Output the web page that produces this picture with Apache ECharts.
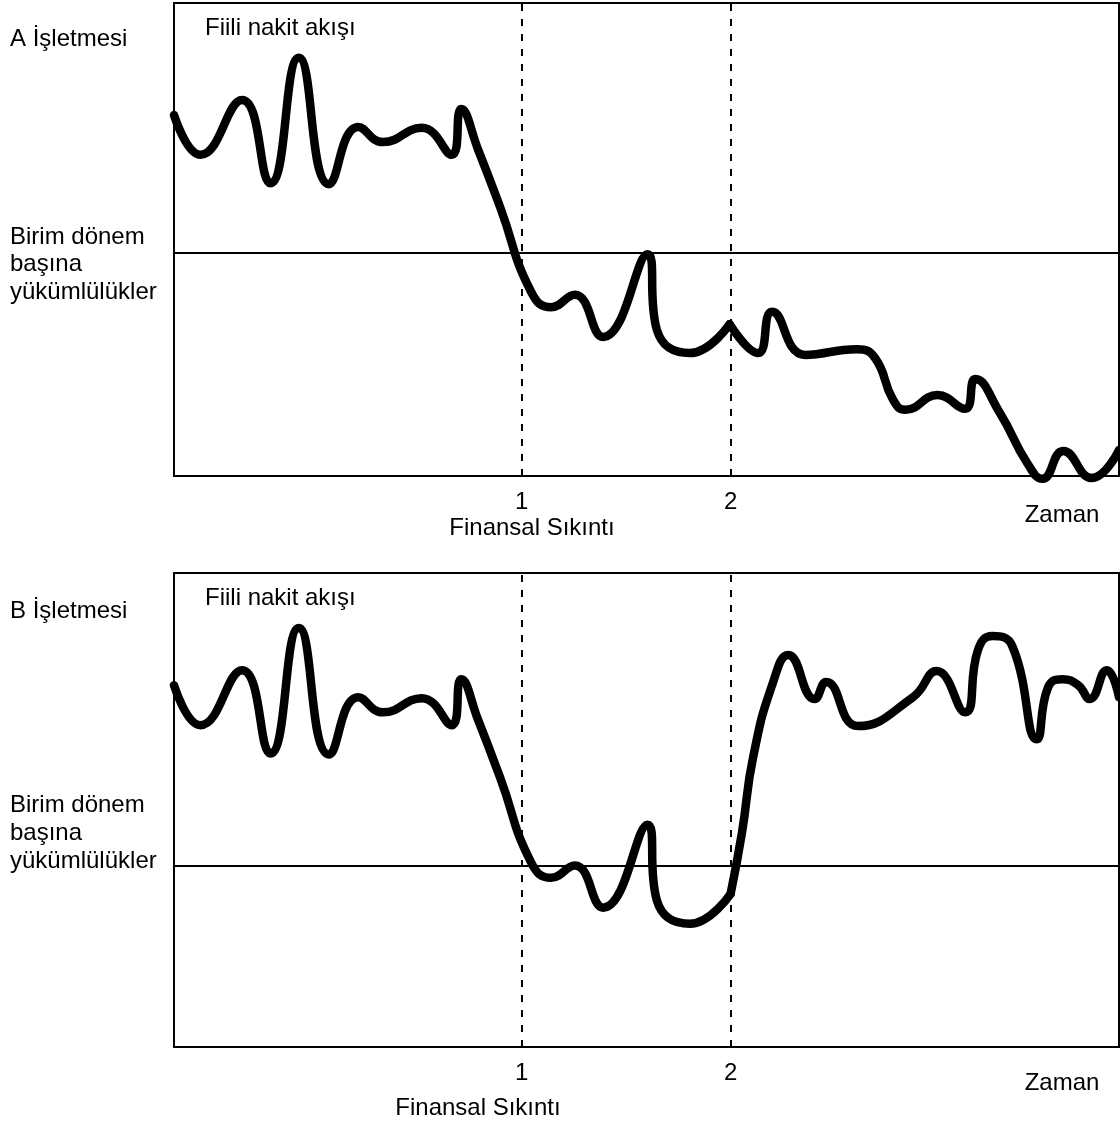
<!DOCTYPE html>
<html>
<head>
<meta charset="utf-8">
<script src="https://cdn.jsdelivr.net/npm/echarts@6/dist/echarts.min.js"></script>
<style>
html,body{margin:0;padding:0;background:#fff;}
#chart{width:1120px;height:1122px;}
</style>
</head>
<body>
<div id="chart"></div>
<script>
// Time axis 0..100, cash-flow axis 0..100 (arbitrary units)
const distressTimes = [36.8, 58.9];
const distressTickLabels = ['1', '2'];

// Firm A – actual cash flow, before and after point 2
const timeA1 = [0, 2.8, 7.2, 10.2, 13.2, 16.4, 19.5, 22.1, 26.2, 29.4, 30.4, 32.2, 34.5, 37.8, 39.9, 42.4, 45.4, 50.1, 51.1, 54.6, 58.8];
const cashA1 = [76.3, 67.9, 79.5, 61.9, 88.4, 61.7, 73.8, 70.6, 73.6, 67.9, 77.6, 68.9, 56.9, 38.9, 35.7, 38.3, 29.4, 46.9, 30.9, 26.0, 32.1];
const timeA2 = [58.8, 61.8, 63.3, 66.8, 72.3, 74.2, 76.1, 77.4, 80.8, 83.7, 84.8, 87.4, 90.3, 91.9, 94.1, 97.1, 100];
const cashA2 = [32.1, 26.0, 34.7, 25.6, 26.8, 24.9, 16.1, 14.0, 17.1, 14.2, 20.5, 13.3, 2.7, -0.6, 5.3, -0.4, 5.5];
const liabilityA = 47.1;

// Firm B – actual cash flow, before and after point 2
const timeB1 = [0, 2.8, 7.2, 10.2, 13.2, 16.4, 19.5, 22.1, 26.2, 29.4, 30.4, 32.2, 34.5, 37.8, 39.9, 42.4, 45.4, 50.1, 51.1, 54.6, 58.9];
const cashB1 = [76.3, 67.9, 79.5, 61.9, 88.4, 61.7, 73.8, 70.6, 73.6, 67.9, 77.6, 68.9, 56.9, 38.9, 35.7, 38.3, 29.4, 46.9, 30.9, 26.0, 32.3];
const timeB2 = [58.9, 60.1, 61.3, 63.4, 65.0, 67.8, 69.0, 72.4, 78.2, 80.7, 83.7, 85.1, 86.6, 88.7, 91.3, 92.5, 94.0, 95.7, 96.9, 98.7, 100];
const cashB2 = [32.3, 45.2, 61.3, 77.0, 82.7, 73.4, 77.0, 67.7, 73.8, 79.3, 70.6, 83.9, 86.7, 84.6, 64.9, 75.9, 77.6, 76.3, 73.4, 79.5, 73.8];
const liabilityB = 38.3;

const FONT = 'Liberation Sans';
const FS = 24;

function zip(xs, ys) { return xs.map((x, i) => [x, ys[i]]); }

function curve(gi, data) {
  return {
    type: 'line', xAxisIndex: gi, yAxisIndex: gi, data: data,
    smooth: 0.5, symbol: 'none', clip: false, z: 5,
    lineStyle: { color: '#000', width: 8.5, cap: 'round', join: 'round' },
    animation: false, silent: true
  };
}
function guides(gi, liability) {
  return {
    type: 'line', xAxisIndex: gi, yAxisIndex: gi, data: [], z: 2,
    animation: false, silent: true,
    markLine: {
      symbol: 'none', silent: true, animation: false, label: { show: false },
      data: [
        { xAxis: distressTimes[0], lineStyle: { type: [7, 8], width: 2, color: '#000' } },
        { xAxis: distressTimes[1], lineStyle: { type: [7, 8], width: 2, color: '#000' } },
        { yAxis: liability, lineStyle: { type: 'solid', width: 2, color: '#000' } }
      ]
    }
  };
}
function xAx(gi) {
  return {
    type: 'value', gridIndex: gi, min: 0, max: 100,
    axisLine: { show: false }, axisTick: { show: false }, splitLine: { show: false },
    axisLabel: {
      customValues: distressTimes, margin: 14,
      fontFamily: FONT, fontSize: FS, color: '#000',
      formatter: v => distressTickLabels[distressTimes.indexOf(v)]
    }
  };
}
function yAx(gi) {
  return { type: 'value', gridIndex: gi, min: 0, max: 100, show: false };
}
function txt(s, x, y, align) {
  return { type: 'text', x: x, y: y, style: { text: s, fontFamily: FONT, fontSize: FS, fill: '#000', align: align || 'left', verticalAlign: 'middle' }, silent: true };
}

const chart = echarts.init(document.getElementById('chart'), null, { renderer: 'canvas' });
chart.setOption({
  animation: false,
  backgroundColor: '#fff',
  grid: [
    { left: 174, top: 3, width: 945, height: 473, show: true, borderColor: '#000', borderWidth: 2, backgroundColor: 'transparent' },
    { left: 174, top: 573, width: 945, height: 474, show: true, borderColor: '#000', borderWidth: 2, backgroundColor: 'transparent' }
  ],
  xAxis: [xAx(0), xAx(1)],
  yAxis: [yAx(0), yAx(1)],
  series: [
    guides(0, liabilityA),
    curve(0, zip(timeA1, cashA1)),
    curve(0, zip(timeA2, cashA2)),
    guides(1, liabilityB),
    curve(1, zip(timeB1, cashB1)),
    curve(1, zip(timeB2, cashB2))
  ],
  graphic: [
    txt('A İşletmesi', 10, 39),
    txt('Fiili nakit akışı', 205, 28),
    txt('Birim dönem', 10, 237),
    txt('başına', 10, 264),
    txt('yükümlülükler', 10, 292),
    txt('Finansal Sıkıntı', 532, 528, 'center'),
    txt('Zaman', 1062, 515, 'center'),
    txt('B İşletmesi', 10, 611),
    txt('Fiili nakit akışı', 205, 598),
    txt('Birim dönem', 10, 805),
    txt('başına', 10, 833),
    txt('yükümlülükler', 10, 861),
    txt('Finansal Sıkıntı', 478, 1108, 'center'),
    txt('Zaman', 1062, 1083, 'center')
  ]
});
</script>
</body>
</html>
